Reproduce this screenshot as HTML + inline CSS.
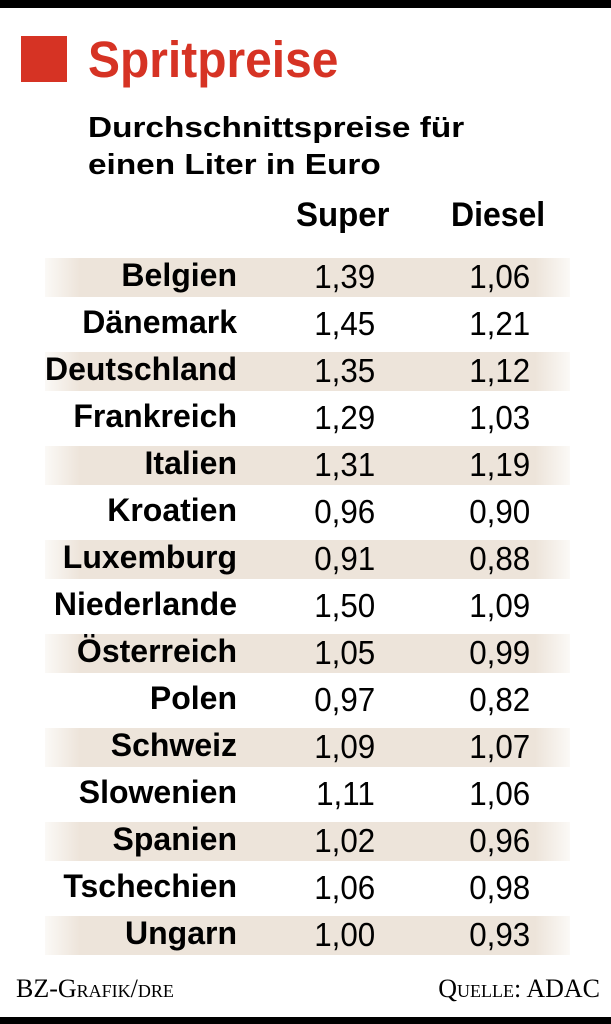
<!DOCTYPE html>
<html><head><meta charset="utf-8"><style>
body{margin:0;width:611px;height:1024px;background:#fff;position:relative;overflow:hidden;font-family:"Liberation Sans",sans-serif;}
.abs{position:absolute;white-space:nowrap;}
.stripe{position:absolute;left:45px;width:525px;height:39px;background:linear-gradient(to right,#fbf9f6 0,#ede4da 35px,#ede4da 490px,#fbf9f6 525px);}
.row{position:absolute;left:0;width:611px;height:39px;}
.c{position:absolute;right:374px;top:-2px;font-weight:bold;font-size:32px;line-height:39px;white-space:nowrap;}
.s,.d{position:absolute;top:-1px;font-size:33px;line-height:39px;transform:scaleX(0.95);transform-origin:right;white-space:nowrap;}
.s{right:236px;}
.d{right:81px;}
</style></head><body>
<div class="abs" style="left:0;top:0;width:611px;height:8px;background:#000"></div>
<div class="abs" style="left:21px;top:36px;width:46px;height:46px;background:#d63324"></div>
<div class="abs" style="left:88px;top:30px;font-size:51px;line-height:60px;font-weight:bold;color:#d63324;transform:scaleX(0.94);transform-origin:left">Spritpreise</div>
<div class="abs" style="left:88px;top:110px;font-size:29px;font-weight:bold;line-height:37px;transform:scaleX(1.15);transform-origin:left">Durchschnittspreise für<br>einen Liter in Euro</div>
<div class="abs" style="left:296px;top:196px;font-size:34px;font-weight:bold;transform:scaleX(0.97);transform-origin:left">Super</div>
<div class="abs" style="left:451px;top:196px;font-size:34px;font-weight:bold;transform:scaleX(0.94);transform-origin:left">Diesel</div>
<div class="stripe" style="top:258px"></div>
<div class="stripe" style="top:352px"></div>
<div class="stripe" style="top:446px"></div>
<div class="stripe" style="top:540px"></div>
<div class="stripe" style="top:634px"></div>
<div class="stripe" style="top:728px"></div>
<div class="stripe" style="top:822px"></div>
<div class="stripe" style="top:916px"></div>
<div class="row" style="top:258px"><span class="c">Belgien</span><span class="s">1,39</span><span class="d">1,06</span></div>
<div class="row" style="top:305px"><span class="c">Dänemark</span><span class="s">1,45</span><span class="d">1,21</span></div>
<div class="row" style="top:352px"><span class="c">Deutschland</span><span class="s">1,35</span><span class="d">1,12</span></div>
<div class="row" style="top:399px"><span class="c">Frankreich</span><span class="s">1,29</span><span class="d">1,03</span></div>
<div class="row" style="top:446px"><span class="c">Italien</span><span class="s">1,31</span><span class="d">1,19</span></div>
<div class="row" style="top:493px"><span class="c">Kroatien</span><span class="s">0,96</span><span class="d">0,90</span></div>
<div class="row" style="top:540px"><span class="c">Luxemburg</span><span class="s">0,91</span><span class="d">0,88</span></div>
<div class="row" style="top:587px"><span class="c">Niederlande</span><span class="s">1,50</span><span class="d">1,09</span></div>
<div class="row" style="top:634px"><span class="c">Österreich</span><span class="s">1,05</span><span class="d">0,99</span></div>
<div class="row" style="top:681px"><span class="c">Polen</span><span class="s">0,97</span><span class="d">0,82</span></div>
<div class="row" style="top:728px"><span class="c">Schweiz</span><span class="s">1,09</span><span class="d">1,07</span></div>
<div class="row" style="top:775px"><span class="c">Slowenien</span><span class="s">1,11</span><span class="d">1,06</span></div>
<div class="row" style="top:822px"><span class="c">Spanien</span><span class="s">1,02</span><span class="d">0,96</span></div>
<div class="row" style="top:869px"><span class="c">Tschechien</span><span class="s">1,06</span><span class="d">0,98</span></div>
<div class="row" style="top:916px"><span class="c">Ungarn</span><span class="s">1,00</span><span class="d">0,93</span></div>
<div class="abs" style="left:16px;top:974px;font-family:'Liberation Serif',serif;font-size:26px;font-variant:small-caps">BZ-Grafik/dre</div>
<div class="abs" style="right:11px;top:974px;font-family:'Liberation Serif',serif;font-size:26px;font-variant:small-caps">Quelle: ADAC</div>
<div class="abs" style="left:0;top:1017px;width:611px;height:7px;background:#000"></div>
</body></html>
